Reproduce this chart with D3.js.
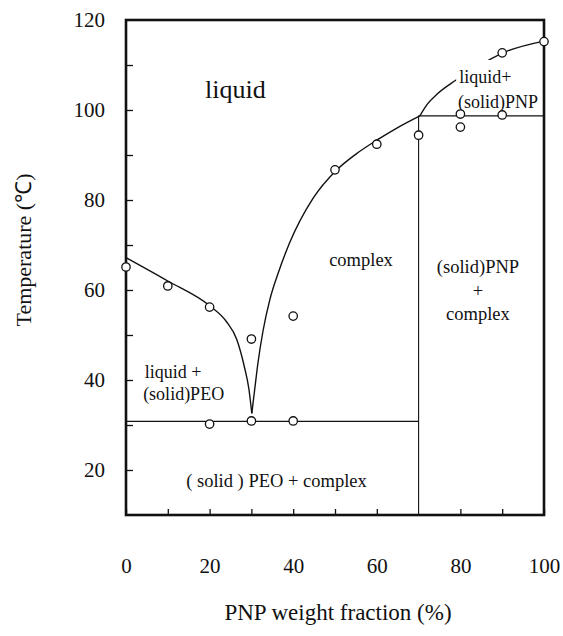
<!DOCTYPE html>
<html>
<head>
<meta charset="utf-8">
<script src="https://cdn.jsdelivr.net/npm/d3@7"></script>
<style>
  body { margin: 0; background: #fff; }
  svg { display: block; }
  svg text { font-family: "Liberation Serif", "Times New Roman", serif; }
</style>
</head>
<body>
<div id="chart"></div>
<script>
const width = 563;
const height = 636;
const serif = "'Liberation Serif', 'Times New Roman', serif";

// measured points (PNP wt%, temperature °C)
const pointX = [0, 10, 20, 30, 40, 50, 60, 70, 80, 90, 100, 20, 30, 40, 80, 90];
const pointT = [65.1, 60.9, 56.2, 49.1, 54.2, 86.7, 92.4, 94.4, 99.1, 112.7, 115.2, 30.2, 30.9, 30.9, 96.2, 98.9];

// phase boundaries
const peoLiquidusX = [0, 10, 20, 24, 26.5, 28.3, 29.4, 30.1];
const peoLiquidusT = [67.2, 62, 56.5, 53, 49, 43, 38, 32.6];
const complexLiquidusX = [30.1, 30.8, 31.6, 32.8, 34.4, 36.5, 39.2, 44.7, 50.2, 55, 60, 65, 70.3];
const complexLiquidusT = [32.6, 38, 44, 51, 57.8, 64, 70.6, 80.3, 86.5, 90.2, 93.3, 96.1, 98.7];
const pnpLiquidusX = [70.3, 72, 74.5, 78.7, 84.7, 90.2, 100];
const pnpLiquidusT = [98.7, 101.2, 103.6, 106.5, 110, 112.7, 115.3];
const eutecticT = 30.8;
const upperEutecticT = 98.7;
const complexX = 70;

const xTicks = [0, 10, 20, 30, 40, 50, 60, 70, 80, 90, 100];
const xTickLabels = [0, 20, 40, 60, 80, 100];
const yTicks = [20, 30, 40, 50, 60, 70, 80, 90, 100, 110];
const yTickLabels = [20, 40, 60, 80, 100, 120];

const x = d3.scaleLinear([0, 100], [126, 544]);
const y = d3.scaleLinear([10, 120], [515, 20]);

const svg = d3.select("#chart").append("svg")
  .attr("width", width)
  .attr("height", height);

const plainAxis = g => g
  .attr("font-family", serif)
  .attr("font-size", 21)
  .call(g => g.select(".domain").remove())
  .call(g => g.selectAll("line").attr("stroke", "#111").attr("stroke-width", 1.3))
  .call(g => g.selectAll("text").attr("fill", "#111").style("font-family", serif));

// inward ticks
svg.append("g")
  .attr("transform", `translate(${x(0)},0)`)
  .call(d3.axisLeft(y).tickValues(yTicks).tickSize(-7).tickFormat(""))
  .call(plainAxis);

svg.append("g")
  .attr("transform", `translate(${x(0)},0)`)
  .call(d3.axisLeft(y).tickValues(yTickLabels).tickSize(0).tickPadding(21))
  .call(plainAxis);

svg.append("g")
  .attr("transform", `translate(0,${y(10)})`)
  .call(d3.axisBottom(x).tickValues(xTicks.filter(d => d !== complexX)).tickSize(-6).tickFormat(""))
  .call(plainAxis);

svg.append("g")
  .attr("transform", `translate(0,${y(10)})`)
  .call(d3.axisBottom(x).tickValues(xTickLabels).tickSize(0).tickPadding(43))
  .call(plainAxis);

// boundaries
const curve = d3.line()
  .x(d => x(d[0]))
  .y(d => y(d[1]))
  .curve(d3.curveMonotoneX);

const zipPts = (xs, ts) => xs.map((v, i) => [v, ts[i]]);

svg.append("g")
  .attr("fill", "none")
  .attr("stroke", "#111")
  .attr("stroke-width", 1.4)
  .selectAll("path")
  .data([
    zipPts(peoLiquidusX, peoLiquidusT),
    zipPts(complexLiquidusX, complexLiquidusT),
    zipPts(pnpLiquidusX, pnpLiquidusT)
  ])
  .join("path")
  .attr("d", curve);

const straight = d3.line().x(d => x(d[0])).y(d => y(d[1]));
svg.append("g")
  .attr("fill", "none")
  .attr("stroke", "#111")
  .selectAll("path")
  .data([
    { pts: [[0, eutecticT], [complexX, eutecticT]], w: 1.4 },
    { pts: [[complexX, upperEutecticT], [100, upperEutecticT]], w: 1.4 },
    { pts: [[complexX, 10], [complexX, upperEutecticT]], w: 1.1 }
  ])
  .join("path")
  .attr("stroke-width", d => d.w)
  .attr("d", d => straight(d.pts));

// region labels
const labels = svg.append("g").attr("fill", "#111");
function label(txt, xv, tv, size, anchor, halo) {
  const t = labels.append("text")
    .attr("x", x(xv))
    .attr("y", y(tv))
    .attr("font-size", size)
    .attr("text-anchor", anchor || "start")
    .text(txt);
  if (halo) {
    const b = t.node().getBBox();
    labels.insert("rect", () => t.node())
      .attr("x", b.x - 3).attr("y", b.y - 7)
      .attr("width", b.width + 6).attr("height", b.height + 7)
      .attr("fill", "#fff");
  }
}
label("liquid", 18.9, 102.7, 26);
label("liquid+", 79.7, 106, 18, "start", true);
label("(solid)PNP", 79.4, 100.4, 18);
label("complex", 48.6, 65.3, 18.5);
label("(solid)PNP", 84.2, 63.8, 18.5, "middle");
label("+", 84.2, 58.4, 18.5, "middle");
label("complex", 84.2, 53.3, 18.5, "middle");
label("liquid +", 4.5, 40.4, 18);
label("(solid)PEO", 4.1, 35.6, 18);
label("( solid ) PEO + complex", 36, 16.3, 18.5, "middle");

// frame
svg.append("rect")
  .attr("x", x(0))
  .attr("y", y(120))
  .attr("width", x(100) - x(0))
  .attr("height", y(10) - y(120))
  .attr("fill", "none")
  .attr("stroke", "#111")
  .attr("stroke-width", 2.6);

// data points
svg.append("g")
  .selectAll("circle")
  .data(pointX.map((v, i) => [v, pointT[i]]))
  .join("circle")
  .attr("cx", d => x(d[0]))
  .attr("cy", d => y(d[1]))
  .attr("r", 4.2)
  .attr("fill", "#fff")
  .attr("stroke", "#111")
  .attr("stroke-width", 1.3);

// axis titles
svg.append("text")
  .attr("x", 338)
  .attr("y", 620)
  .attr("text-anchor", "middle")
  .attr("font-size", 23)
  .attr("fill", "#111")
  .text("PNP weight fraction (%)");

svg.append("text")
  .attr("transform", "translate(31,250) rotate(-90)")
  .attr("text-anchor", "middle")
  .attr("font-size", 22)
  .attr("fill", "#111")
  .text("Temperature (℃)");
</script>
</body>
</html>
